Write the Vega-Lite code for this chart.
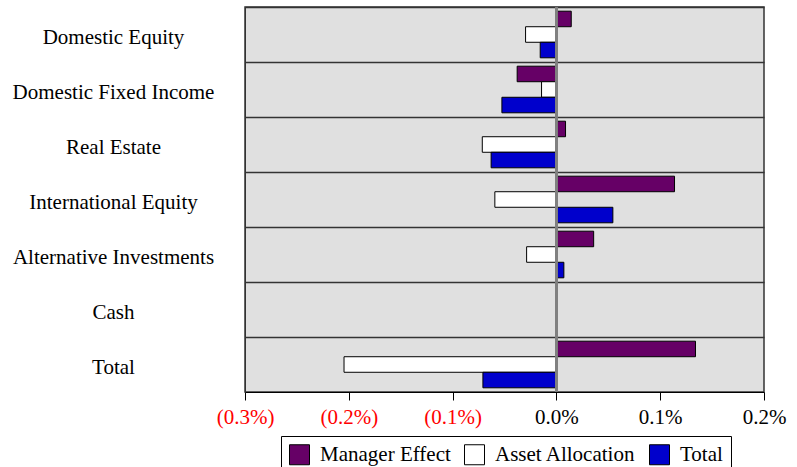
{
  "$schema": "https://vega.github.io/schema/vega-lite/v6.json",
  "autosize": {"type": "none"},
  "padding": {"left": 245, "top": 7, "right": 33, "bottom": 75},
  "width": 519,
  "height": 385,
  "background": "white",
  "config": {
    "font": "Liberation Serif",
    "view": {"fill": "#E0E0E0", "stroke": "#333333", "strokeWidth": 1.5}
  },
  "data": {
    "values": [
      {"category": "Domestic Equity", "series": "Manager Effect", "value": 0.0143},
      {"category": "Domestic Equity", "series": "Asset Allocation", "value": -0.0297},
      {"category": "Domestic Equity", "series": "Total", "value": -0.0156},
      {"category": "Domestic Fixed Income", "series": "Manager Effect", "value": -0.0378},
      {"category": "Domestic Fixed Income", "series": "Asset Allocation", "value": -0.0143},
      {"category": "Domestic Fixed Income", "series": "Total", "value": -0.0525},
      {"category": "Real Estate", "series": "Manager Effect", "value": 0.0088},
      {"category": "Real Estate", "series": "Asset Allocation", "value": -0.0714},
      {"category": "Real Estate", "series": "Total", "value": -0.0629},
      {"category": "International Equity", "series": "Manager Effect", "value": 0.1138},
      {"category": "International Equity", "series": "Asset Allocation", "value": -0.0593},
      {"category": "International Equity", "series": "Total", "value": 0.0544},
      {"category": "Alternative Investments", "series": "Manager Effect", "value": 0.0359},
      {"category": "Alternative Investments", "series": "Asset Allocation", "value": -0.0287},
      {"category": "Alternative Investments", "series": "Total", "value": 0.0072},
      {"category": "Cash", "series": "Manager Effect", "value": 0.0002},
      {"category": "Cash", "series": "Asset Allocation", "value": -0.0002},
      {"category": "Cash", "series": "Total", "value": 0.0001},
      {"category": "Total", "series": "Manager Effect", "value": 0.134},
      {"category": "Total", "series": "Asset Allocation", "value": -0.2046},
      {"category": "Total", "series": "Total", "value": -0.0708}
    ]
  },
  "layer": [
    {
      "mark": {"type": "bar", "stroke": "black", "strokeWidth": 1},
      "encoding": {
        "y": {
          "field": "category",
          "type": "nominal",
          "sort": ["Domestic Equity", "Domestic Fixed Income", "Real Estate", "International Equity", "Alternative Investments", "Cash", "Total"],
          "scale": {"paddingInner": 0, "paddingOuter": 0},
          "axis": {
            "title": null,
            "ticks": false,
            "domain": true,
            "domainColor": "#333333",
            "labelAlign": "center",
            "labelPadding": 132,
            "labelOffset": 3,
            "labelLimit": 0,
            "labelFontSize": 21,
            "labelColor": "black",
            "labelFont": "Liberation Serif",
            "grid": true,
            "bandPosition": 0,
            "gridColor": "#333333",
            "gridWidth": 1.5
          }
        },
        "yOffset": {
          "field": "series",
          "type": "nominal",
          "sort": ["Manager Effect", "Asset Allocation", "Total"],
          "scale": {"paddingInner": 0, "paddingOuter": 0.27}
        },
        "x": {
          "field": "value",
          "type": "quantitative",
          "scale": {"domain": [-0.3, 0.2], "nice": false, "zero": false},
          "axis": {
            "title": null,
            "values": [-0.3, -0.2, -0.1, 0, 0.1, 0.2],
            "grid": false,
            "tickSize": 8,
            "tickColor": "black",
            "domainColor": "black",
            "labelPadding": 6,
            "labelFontSize": 21,
            "labelFont": "Liberation Serif",
            "labelFlush": false,
            "labelExpr": "datum.value < 0 ? '(' + format(-datum.value, '.1f') + '%)' : format(datum.value, '.1f') + '%'",
            "labelColor": {"condition": {"test": "datum.value < 0", "value": "#FF0000"}, "value": "black"}
          }
        },
        "fill": {
          "field": "series",
          "type": "nominal",
          "sort": ["Manager Effect", "Asset Allocation", "Total"],
          "scale": {"domain": ["Manager Effect", "Asset Allocation", "Total"], "range": ["#660066", "#FFFFFF", "#0000CC"]},
          "legend": {
            "title": null,
            "orient": "none",
            "legendX": 36,
            "legendY": 429,
            "direction": "horizontal",
            "columns": 3,
            "symbolType": "square",
            "symbolSize": 400,
            "symbolStrokeColor": "black",
            "symbolStrokeWidth": 1,
            "labelFontSize": 21,
            "labelFont": "Liberation Serif",
            "labelColor": "black",
            "labelOffset": 10,
            "labelLimit": 0,
            "columnPadding": 11,
            "strokeColor": "black",
            "fillColor": "white",
            "padding": 8
          }
        }
      }
    },
    {
      "mark": {"type": "rule", "color": "#808080", "strokeWidth": 1.5},
      "encoding": {"x": {"datum": 0}}
    }
  ]
}
